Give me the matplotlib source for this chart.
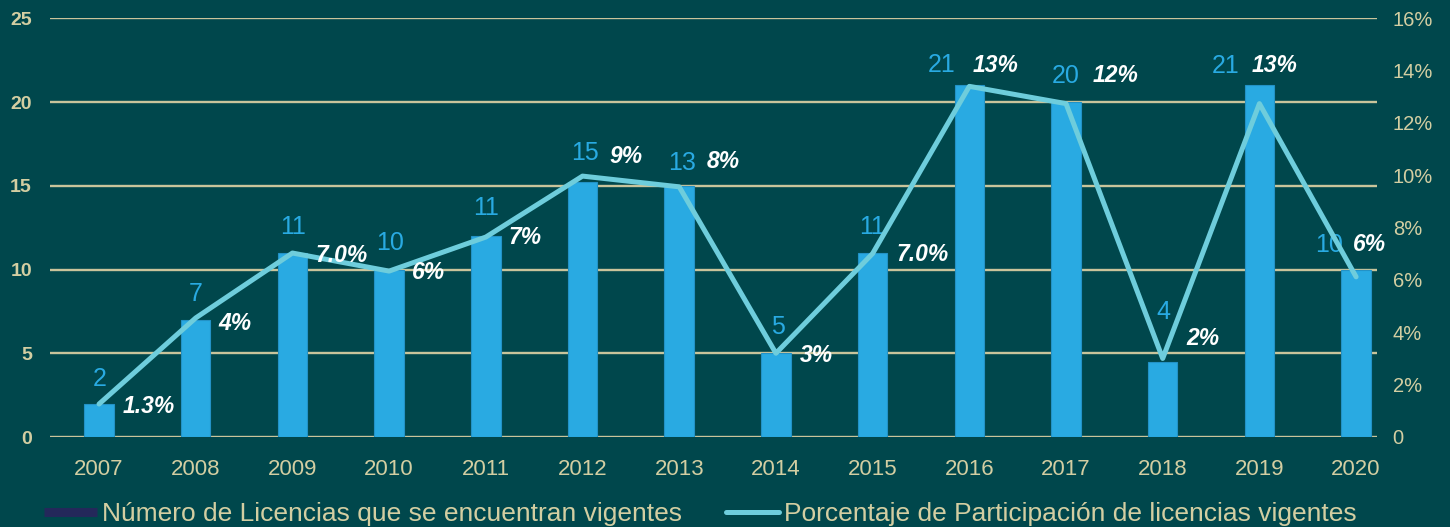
import matplotlib
matplotlib.use("Agg")
import matplotlib.pyplot as plt
from matplotlib.lines import Line2D

# ---------------- data ----------------
years = ["2007", "2008", "2009", "2010", "2011", "2012", "2013",
         "2014", "2015", "2016", "2017", "2018", "2019", "2020"]
bar_values = [2, 7, 11, 10, 12, 15.2, 15, 5, 11, 21, 20, 4.5, 21, 10]
count_labels = ["2", "7", "11", "10", "11", "15", "13", "5", "11", "21", "20", "4", "21", "10"]
pct_values = [1.26, 4.55, 7.03, 6.34, 7.64, 9.97, 9.56, 3.20, 7.01, 13.40, 12.74, 3.00, 12.74, 6.12]
pct_labels = ["1.3%", "4%", "7.0%", "6%", "7%", "9%", "8%", "3%", "7.0%", "13%", "12%", "2%", "13%", "6%"]
left_ticks = [0, 5, 10, 15, 20, 25]
right_ticks = [0, 2, 4, 6, 8, 10, 12, 14, 16]
right_tick_labels = ["0", "2%", "4%", "6%", "8%", "10%", "12%", "14%", "16%"]
legend_labels = ["Número de Licencias que se encuentran vigentes",
                 "Porcentaje de Participación de licencias vigentes"]

# ---------------- styles / layout ----------------
BG = "#00474C"
GRID = "#C9C49B"
BEIGE = "#D3CEA2"
BAR = "#29AAE2"
BAR_EDGE = "#2392C6"
LINE = "#6ECDDC"
NAVY = "#24285A"
FONT = ["Liberation Sans", "DejaVu Sans"]

# label offsets in pixels (dx, dy) relative to their anchor
count_offsets = [(0.5, 25), (0, 26), (0.5, 26), (0.5, 27), (0, 28), (2, 29), (3, 23),
                 (2.5, 26), (-1, 26), (-28, 20), (0, 26), (1, 50), (-33.5, 19), (-27, 25)]
pct_offsets = [(50, -2), (39, -6), (49, -2), (39, -1), (39, 0), (44, 20), (44, 25),
               (40, -2), (50, -1), (26, 21), (50, 28), (40, 20), (15, 38), (13, 32)]

plt.rcParams["font.family"] = FONT

W, H = 1450, 527
fig = plt.figure(figsize=(W / 100, H / 100), dpi=100)
fig.patch.set_facecolor(BG)

ax_l, ax_r, ax_b, ax_t = 50, 1376.7, 437, 18.3
ax = fig.add_axes([ax_l / W, 1 - ax_b / H, (ax_r - ax_l) / W, (ax_b - ax_t) / H])
ax.set_facecolor(BG)
ax2 = ax.twinx()

x = list(range(len(years)))

# bars
ax.bar(x, bar_values, width=0.305, color=BAR, edgecolor=BAR_EDGE, linewidth=0.8, zorder=3)
ax.set_ylim(0, 25)
ax.set_xlim(-0.507, 13.213)
ax.set_yticks(left_ticks)
ax.yaxis.grid(True, color=GRID, linewidth=1.7, zorder=0)
ax.set_axisbelow(True)
ax.set_xticks(x)
ax.set_xticklabels(years)

for s in ax.spines.values():
    s.set_visible(False)
for s in ax2.spines.values():
    s.set_visible(False)

ax.tick_params(axis="x", length=0, pad=15.5, labelsize=16, labelcolor=BEIGE)
ax.tick_params(axis="y", length=0, pad=13, labelsize=14, labelcolor=BEIGE)
for t in ax.get_yticklabels():
    t.set_fontweight("bold")

# line on secondary axis
ax2.plot(x, pct_values, color=LINE, linewidth=3.6, solid_joinstyle="round",
         solid_capstyle="round", zorder=4)
ax2.set_ylim(0, 16)
ax2.set_yticks(right_ticks)
ax2.set_yticklabels(right_tick_labels)
ax2.tick_params(axis="y", length=0, pad=11.5, labelsize=14.5, labelcolor=BEIGE)
ax2.set_xlim(ax.get_xlim())

# count labels
for i, (v, lab) in enumerate(zip(bar_values, count_labels)):
    dx, dy = count_offsets[i]
    ax.annotate(lab, xy=(i, v), xytext=(dx, dy), textcoords="offset pixels",
                ha="center", va="center", fontsize=18, color=BAR, zorder=6,
                annotation_clip=False)

# percent labels
for i, (v, lab) in enumerate(zip(pct_values, pct_labels)):
    dx, dy = pct_offsets[i]
    ax2.annotate(lab, xy=(i, v), xytext=(dx, dy), textcoords="offset pixels",
                 ha="center", va="center", fontsize=16.5, color="white",
                 fontweight="bold", fontstyle="italic", zorder=7,
                 annotation_clip=False)

# legend
handles = [
    Line2D([0], [0], color=NAVY, linewidth=6.5, solid_capstyle="butt"),
    Line2D([0], [0], color=LINE, linewidth=3.6, solid_capstyle="round"),
]
leg = fig.legend(handles, legend_labels, loc="center left",
                 bbox_to_anchor=(44 / W, 1 - 514 / H), ncol=2, frameon=False,
                 fontsize=19, handlelength=2.0, handletextpad=0.19,
                 columnspacing=1.67, borderpad=0, borderaxespad=0)
for t in leg.get_texts():
    t.set_color(BEIGE)

fig.savefig("out.png", dpi=100, facecolor=BG)
